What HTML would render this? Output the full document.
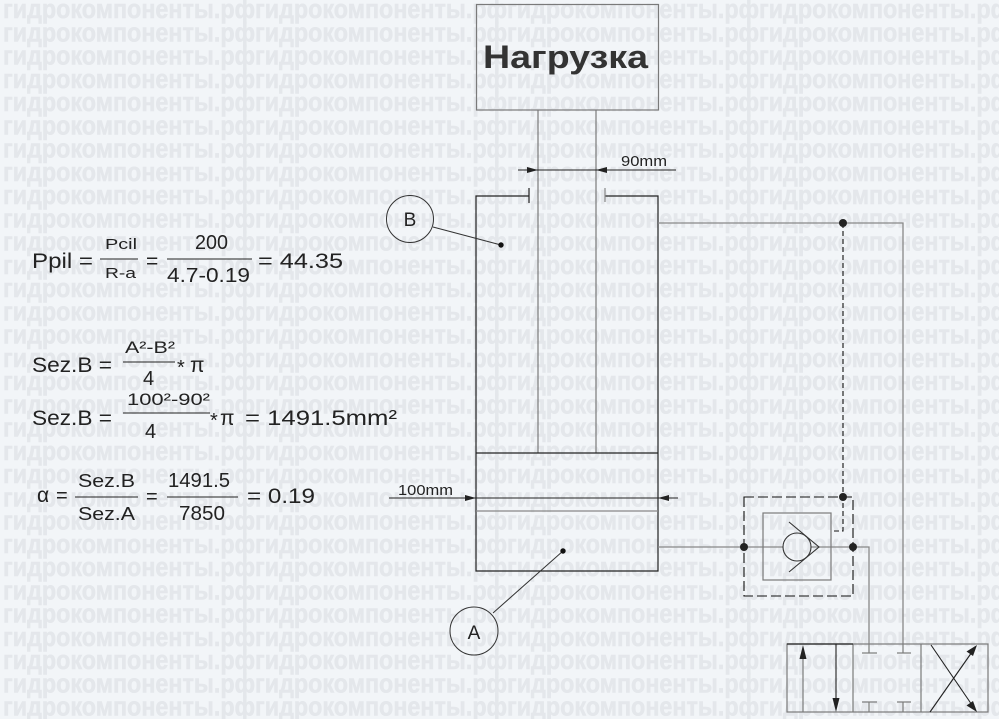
<!DOCTYPE html>
<html><head><meta charset="utf-8"><style>
html,body{margin:0;padding:0;background:#f2f5f8;}
svg{display:block;}
</style></head><body>
<svg width="999" height="719" viewBox="0 0 999 719" xmlns="http://www.w3.org/2000/svg">
<rect width="999" height="719" fill="#f2f5f8"/>
<g font-family="'Liberation Sans Narrow','Liberation Sans',sans-serif" font-weight="bold" font-size="27" fill="#e4e7eb" stroke="#e4e7eb" stroke-width="0.6">
<text x="3" y="18" textLength="1008" lengthAdjust="spacingAndGlyphs">гидрокомпоненты.рфгидрокомпоненты.рфгидрокомпоненты.рфгидрокомпоненты.рф</text>
<text x="3" y="41.25" textLength="1008" lengthAdjust="spacingAndGlyphs">гидрокомпоненты.рфгидрокомпоненты.рфгидрокомпоненты.рфгидрокомпоненты.рф</text>
<text x="3" y="64.5" textLength="1008" lengthAdjust="spacingAndGlyphs">гидрокомпоненты.рфгидрокомпоненты.рфгидрокомпоненты.рфгидрокомпоненты.рф</text>
<text x="3" y="87.75" textLength="1008" lengthAdjust="spacingAndGlyphs">гидрокомпоненты.рфгидрокомпоненты.рфгидрокомпоненты.рфгидрокомпоненты.рф</text>
<text x="3" y="111" textLength="1008" lengthAdjust="spacingAndGlyphs">гидрокомпоненты.рфгидрокомпоненты.рфгидрокомпоненты.рфгидрокомпоненты.рф</text>
<text x="3" y="134.25" textLength="1008" lengthAdjust="spacingAndGlyphs">гидрокомпоненты.рфгидрокомпоненты.рфгидрокомпоненты.рфгидрокомпоненты.рф</text>
<text x="3" y="157.5" textLength="1008" lengthAdjust="spacingAndGlyphs">гидрокомпоненты.рфгидрокомпоненты.рфгидрокомпоненты.рфгидрокомпоненты.рф</text>
<text x="3" y="180.75" textLength="1008" lengthAdjust="spacingAndGlyphs">гидрокомпоненты.рфгидрокомпоненты.рфгидрокомпоненты.рфгидрокомпоненты.рф</text>
<text x="3" y="204" textLength="1008" lengthAdjust="spacingAndGlyphs">гидрокомпоненты.рфгидрокомпоненты.рфгидрокомпоненты.рфгидрокомпоненты.рф</text>
<text x="3" y="227.25" textLength="1008" lengthAdjust="spacingAndGlyphs">гидрокомпоненты.рфгидрокомпоненты.рфгидрокомпоненты.рфгидрокомпоненты.рф</text>
<text x="3" y="250.5" textLength="1008" lengthAdjust="spacingAndGlyphs">гидрокомпоненты.рфгидрокомпоненты.рфгидрокомпоненты.рфгидрокомпоненты.рф</text>
<text x="3" y="273.75" textLength="1008" lengthAdjust="spacingAndGlyphs">гидрокомпоненты.рфгидрокомпоненты.рфгидрокомпоненты.рфгидрокомпоненты.рф</text>
<text x="3" y="297" textLength="1008" lengthAdjust="spacingAndGlyphs">гидрокомпоненты.рфгидрокомпоненты.рфгидрокомпоненты.рфгидрокомпоненты.рф</text>
<text x="3" y="320.25" textLength="1008" lengthAdjust="spacingAndGlyphs">гидрокомпоненты.рфгидрокомпоненты.рфгидрокомпоненты.рфгидрокомпоненты.рф</text>
<text x="3" y="343.5" textLength="1008" lengthAdjust="spacingAndGlyphs">гидрокомпоненты.рфгидрокомпоненты.рфгидрокомпоненты.рфгидрокомпоненты.рф</text>
<text x="3" y="366.75" textLength="1008" lengthAdjust="spacingAndGlyphs">гидрокомпоненты.рфгидрокомпоненты.рфгидрокомпоненты.рфгидрокомпоненты.рф</text>
<text x="3" y="390" textLength="1008" lengthAdjust="spacingAndGlyphs">гидрокомпоненты.рфгидрокомпоненты.рфгидрокомпоненты.рфгидрокомпоненты.рф</text>
<text x="3" y="413.25" textLength="1008" lengthAdjust="spacingAndGlyphs">гидрокомпоненты.рфгидрокомпоненты.рфгидрокомпоненты.рфгидрокомпоненты.рф</text>
<text x="3" y="436.5" textLength="1008" lengthAdjust="spacingAndGlyphs">гидрокомпоненты.рфгидрокомпоненты.рфгидрокомпоненты.рфгидрокомпоненты.рф</text>
<text x="3" y="459.75" textLength="1008" lengthAdjust="spacingAndGlyphs">гидрокомпоненты.рфгидрокомпоненты.рфгидрокомпоненты.рфгидрокомпоненты.рф</text>
<text x="3" y="483" textLength="1008" lengthAdjust="spacingAndGlyphs">гидрокомпоненты.рфгидрокомпоненты.рфгидрокомпоненты.рфгидрокомпоненты.рф</text>
<text x="3" y="506.25" textLength="1008" lengthAdjust="spacingAndGlyphs">гидрокомпоненты.рфгидрокомпоненты.рфгидрокомпоненты.рфгидрокомпоненты.рф</text>
<text x="3" y="529.5" textLength="1008" lengthAdjust="spacingAndGlyphs">гидрокомпоненты.рфгидрокомпоненты.рфгидрокомпоненты.рфгидрокомпоненты.рф</text>
<text x="3" y="552.75" textLength="1008" lengthAdjust="spacingAndGlyphs">гидрокомпоненты.рфгидрокомпоненты.рфгидрокомпоненты.рфгидрокомпоненты.рф</text>
<text x="3" y="576" textLength="1008" lengthAdjust="spacingAndGlyphs">гидрокомпоненты.рфгидрокомпоненты.рфгидрокомпоненты.рфгидрокомпоненты.рф</text>
<text x="3" y="599.25" textLength="1008" lengthAdjust="spacingAndGlyphs">гидрокомпоненты.рфгидрокомпоненты.рфгидрокомпоненты.рфгидрокомпоненты.рф</text>
<text x="3" y="622.5" textLength="1008" lengthAdjust="spacingAndGlyphs">гидрокомпоненты.рфгидрокомпоненты.рфгидрокомпоненты.рфгидрокомпоненты.рф</text>
<text x="3" y="645.75" textLength="1008" lengthAdjust="spacingAndGlyphs">гидрокомпоненты.рфгидрокомпоненты.рфгидрокомпоненты.рфгидрокомпоненты.рф</text>
<text x="3" y="669" textLength="1008" lengthAdjust="spacingAndGlyphs">гидрокомпоненты.рфгидрокомпоненты.рфгидрокомпоненты.рфгидрокомпоненты.рф</text>
<text x="3" y="692.25" textLength="1008" lengthAdjust="spacingAndGlyphs">гидрокомпоненты.рфгидрокомпоненты.рфгидрокомпоненты.рфгидрокомпоненты.рф</text>
<text x="3" y="715.5" textLength="1008" lengthAdjust="spacingAndGlyphs">гидрокомпоненты.рфгидрокомпоненты.рфгидрокомпоненты.рфгидрокомпоненты.рф</text>
</g>

<!-- Load box -->
<rect x="476.5" y="4.5" width="182" height="105.5" fill="none" stroke="#7a7a7a" stroke-width="1.2"/>
<text x="483" y="68" font-family="'Liberation Sans',sans-serif" font-weight="bold" font-size="32" fill="#333" textLength="165" lengthAdjust="spacingAndGlyphs">Нагрузка</text>

<!-- Rod -->
<g stroke="#7a7a7a" stroke-width="1.2" fill="none">
<line x1="538" y1="110" x2="538" y2="453"/>
<line x1="596" y1="110" x2="596" y2="453"/>
</g>

<!-- 90mm dimension -->
<line x1="518" y1="170" x2="676" y2="170" stroke="#222" stroke-width="1"/>
<polygon points="538,170 527,167 527,173" fill="#222"/>
<polygon points="596,170 607,167 607,173" fill="#222"/>
<text x="621" y="166" font-family="'Liberation Sans',sans-serif" font-size="15" fill="#222" textLength="46" lengthAdjust="spacingAndGlyphs">90mm</text>

<!-- Cylinder -->
<g stroke="#222" stroke-width="1.2" fill="none">
<polyline points="529,196 476,196 476,571 658,571 658,196 605,196"/>
<line x1="529" y1="188" x2="529" y2="203"/>
<line x1="476" y1="453" x2="658" y2="453"/>
</g>
<line x1="605" y1="188" x2="605" y2="202" stroke="#888" stroke-width="1.2"/>
<line x1="476" y1="511" x2="658" y2="511" stroke="#888" stroke-width="1.2"/>

<!-- 100mm dimension -->
<line x1="389" y1="498" x2="678" y2="498" stroke="#222" stroke-width="1"/>
<polygon points="476,498 465,495 465,501" fill="#222"/>
<polygon points="658,498 669,495 669,501" fill="#222"/>
<text x="398" y="495" font-family="'Liberation Sans',sans-serif" font-size="15" fill="#222" textLength="55" lengthAdjust="spacingAndGlyphs">100mm</text>

<!-- Labels B and A -->
<g stroke="#333" stroke-width="1" fill="none">
<circle cx="410" cy="219" r="23.5"/>
<line x1="433" y1="227" x2="501" y2="245"/>
<circle cx="474" cy="631" r="24"/>
<line x1="493" y1="613" x2="563" y2="551"/>
</g>
<circle cx="501" cy="245" r="2.7" fill="#111"/>
<circle cx="563" cy="551" r="2.7" fill="#111"/>
<text x="410" y="226" text-anchor="middle" font-family="'Liberation Sans',sans-serif" font-size="19" fill="#222">B</text>
<text x="474" y="639" text-anchor="middle" font-family="'Liberation Sans',sans-serif" font-size="19" fill="#222">A</text>

<!-- Hydraulic lines -->
<g stroke="#888" stroke-width="1.3" fill="none">
<polyline points="658,223 903,223 903,644"/>
<line x1="658" y1="547" x2="783" y2="547"/>
<polyline points="811,547 869,547 869,644"/>
</g>
<polyline points="843,223 843,531 831,531" stroke="#111" stroke-width="1.1" fill="none" stroke-dasharray="5,3"/>

<!-- Check valve -->
<rect x="744" y="497" width="109" height="99" fill="none" stroke="#111" stroke-width="1.1" stroke-dasharray="10,4"/>
<rect x="763" y="513" width="68" height="67" fill="none" stroke="#7a7a7a" stroke-width="1.2"/>
<circle cx="797" cy="547" r="14" fill="none" stroke="#333" stroke-width="1.1"/>
<polyline points="789,522 819,547 789,572" fill="none" stroke="#333" stroke-width="1.1"/>
<circle cx="843" cy="223" r="4" fill="#222"/>
<circle cx="843" cy="497" r="4" fill="#222"/>
<circle cx="744" cy="547" r="4" fill="#222"/>
<circle cx="853" cy="547" r="4" fill="#222"/>

<!-- Directional valve -->
<g stroke="#7a7a7a" stroke-width="1.2" fill="none">
<rect x="787" y="644" width="201" height="68"/>
<line x1="853" y1="644" x2="853" y2="712"/>
<line x1="921" y1="644" x2="921" y2="712"/>
<line x1="869" y1="644" x2="869" y2="653"/><line x1="862" y1="653" x2="877" y2="653"/>
<line x1="903" y1="644" x2="903" y2="653"/><line x1="897" y1="653" x2="911" y2="653"/>
<line x1="869" y1="702" x2="869" y2="712"/><line x1="862" y1="702" x2="877" y2="702"/>
<line x1="903" y1="702" x2="903" y2="712"/><line x1="897" y1="702" x2="911" y2="702"/>
<line x1="803" y1="712" x2="803" y2="658"/>
</g>
<line x1="787" y1="644" x2="853" y2="644" stroke="#222" stroke-width="1.2"/>
<line x1="836" y1="644" x2="836" y2="700" stroke="#222" stroke-width="1.1"/>
<polygon points="803,645 799.5,659 806.5,659" fill="#222"/>
<polygon points="836,712 832.5,698 839.5,698" fill="#222"/>
<line x1="930" y1="712" x2="972" y2="652" stroke="#222" stroke-width="1.1"/>
<line x1="931" y1="645" x2="972" y2="705" stroke="#222" stroke-width="1.1"/>
<polygon points="977,645 966.5,651.5 973,656" fill="#222"/>
<polygon points="977,712 966.5,705.5 973,701" fill="#222"/>

<!-- Formulas -->
<g font-family="'Liberation Sans',sans-serif" fill="#222">
<text x="32" y="268" font-size="21" textLength="61" lengthAdjust="spacingAndGlyphs">Ppil =</text>
<text x="105" y="249" font-size="15" textLength="32" lengthAdjust="spacingAndGlyphs">Pcil</text>
<text x="105" y="278" font-size="15" textLength="31" lengthAdjust="spacingAndGlyphs">R-a</text>
<text x="146" y="268" font-size="21">=</text>
<text x="195" y="249" font-size="20" textLength="33" lengthAdjust="spacingAndGlyphs">200</text>
<text x="167" y="282" font-size="20" textLength="83" lengthAdjust="spacingAndGlyphs">4.7-0.19</text>
<text x="258" y="268" font-size="21" textLength="85" lengthAdjust="spacingAndGlyphs">= 44.35</text>

<text x="32" y="372" font-size="21" textLength="80" lengthAdjust="spacingAndGlyphs">Sez.B =</text>
<text x="125" y="353" font-size="17" textLength="50" lengthAdjust="spacingAndGlyphs">A²-B²</text>
<text x="143" y="385" font-size="20">4</text>
<text x="177" y="374" font-size="20">*</text>
<text x="190" y="372" font-size="21">π</text>

<text x="32" y="425" font-size="21" textLength="80" lengthAdjust="spacingAndGlyphs">Sez.B =</text>
<text x="127" y="405" font-size="17" textLength="83" lengthAdjust="spacingAndGlyphs">100²-90²</text>
<text x="145" y="438" font-size="20">4</text>
<text x="210" y="427" font-size="20">*</text>
<text x="220" y="425" font-size="21">π</text>
<text x="245" y="425" font-size="21" textLength="152" lengthAdjust="spacingAndGlyphs">= 1491.5mm²</text>

<text x="37" y="502" font-size="21">α</text>
<text x="56" y="502" font-size="20">=</text>
<text x="78" y="487" font-size="18" textLength="57" lengthAdjust="spacingAndGlyphs">Sez.B</text>
<text x="78" y="520" font-size="18" textLength="57" lengthAdjust="spacingAndGlyphs">Sez.A</text>
<text x="146" y="503" font-size="20">=</text>
<text x="168" y="487" font-size="20" textLength="62" lengthAdjust="spacingAndGlyphs">1491.5</text>
<text x="179" y="520" font-size="20" textLength="46" lengthAdjust="spacingAndGlyphs">7850</text>
<text x="247" y="503" font-size="21" textLength="68" lengthAdjust="spacingAndGlyphs">= 0.19</text>
</g>
<g stroke="#222" stroke-width="1.1">
<line x1="100" y1="259" x2="138" y2="259"/>
<line x1="167" y1="259" x2="252" y2="259"/>
<line x1="123" y1="362" x2="175" y2="362"/>
<line x1="123" y1="413" x2="210" y2="413"/>
<line x1="75" y1="497" x2="138" y2="497"/>
<line x1="167" y1="497" x2="238" y2="497"/>
</g>
</svg>
</body></html>
